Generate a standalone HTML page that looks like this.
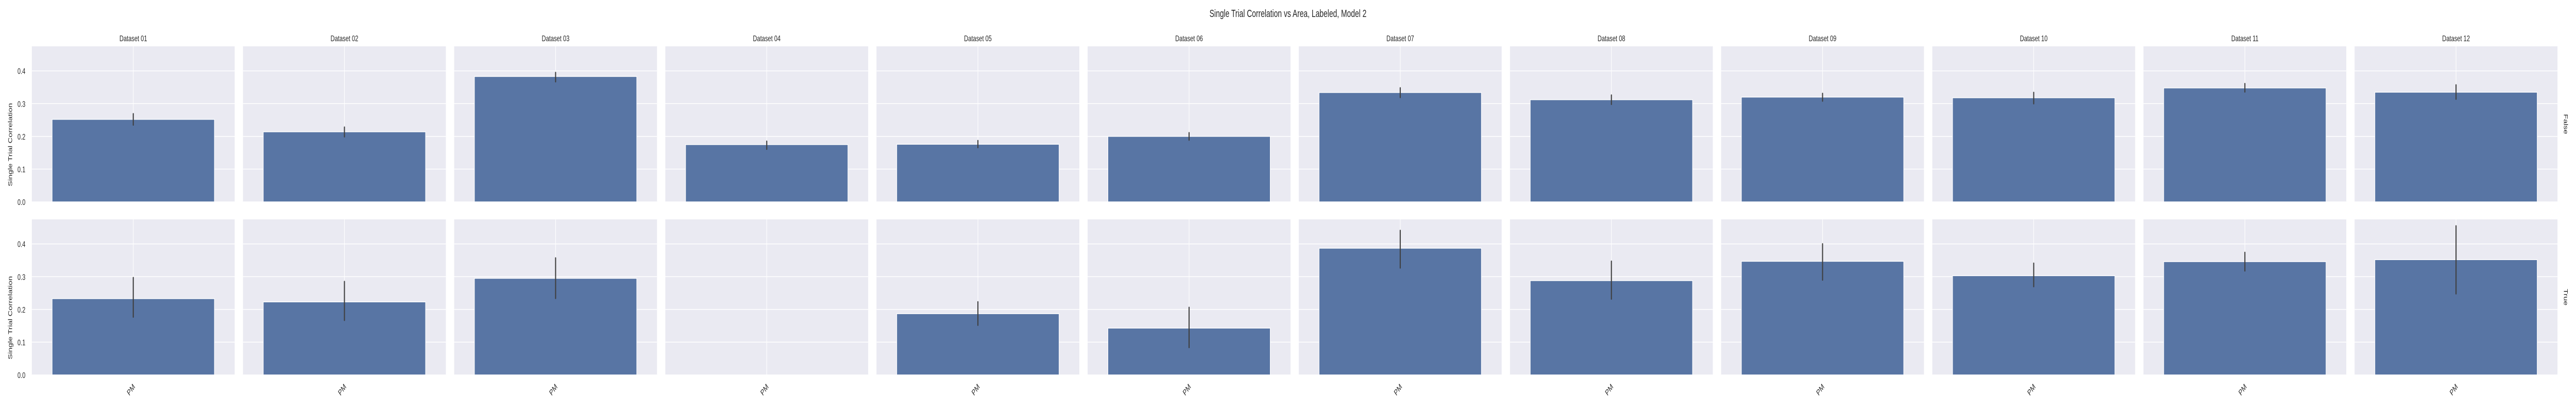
<!DOCTYPE html>
<html><head><meta charset="utf-8"><style>
html,body{margin:0;padding:0;background:#fff;overflow:hidden;width:100%;height:100%;}
svg{display:block;font-family:"Liberation Sans",sans-serif;width:100vw;height:100vh;}
</style></head><body>
<svg id="chart" viewBox="0 0 7200 800" preserveAspectRatio="none" xmlns="http://www.w3.org/2000/svg">
<text x="3600" y="33" font-size="20" text-anchor="middle" fill="#262626">Single Trial Correlation vs Area, Labeled, Model 2</text>
</svg>
<script>
const datasets = ["Dataset 01","Dataset 02","Dataset 03","Dataset 04","Dataset 05","Dataset 06","Dataset 07","Dataset 08","Dataset 09","Dataset 10","Dataset 11","Dataset 12"];
const rowLabels = ["False","True"];
const categories = ["PM"];
const yTicks = [0.0,0.1,0.2,0.3,0.4];
const yTickLabels = ["0.0","0.1","0.2","0.3","0.4"];
const falseMean = [0.252,0.214,0.383,0.175,0.176,0.200,0.334,0.312,0.320,0.318,0.348,0.335];
const falseLow  = [0.235,0.199,0.367,0.161,0.166,0.189,0.319,0.298,0.308,0.300,0.336,0.314];
const falseHigh = [0.269,0.228,0.395,0.185,0.187,0.211,0.348,0.326,0.331,0.334,0.361,0.357];
const trueMean = [0.233,0.223,0.295,null,0.187,0.143,0.387,0.288,0.347,0.303,0.346,0.352];
const trueLow  = [0.177,0.167,0.234,null,0.152,0.084,0.327,0.232,0.290,0.270,0.318,0.248];
const trueHigh = [0.297,0.285,0.357,null,0.223,0.206,0.441,0.347,0.400,0.341,0.374,0.455];

const NS="http://www.w3.org/2000/svg";
const svg=document.getElementById('chart');
function mk(tag,attrs,parent){const e=document.createElementNS(NS,tag);for(const k in attrs)e.setAttribute(k,attrs[k]);(parent||svg).appendChild(e);return e;}
const X0=89, PITCH=590.2, PW=567;
const ROWS=[{top:90,bottom:392},{top:426,bottom:728}];
const YMAX=0.475;
function yScale(v,r){const R=ROWS[r];return R.bottom-(v/YMAX)*(R.bottom-R.top);}
function xCenter(c){return X0+c*PITCH+PW/2;}
const series=[[falseMean,falseLow,falseHigh],[trueMean,trueLow,trueHigh]];

for(let r=0;r<2;r++){
  const R=ROWS[r];
  for(let c=0;c<datasets.length;c++){
    const x=X0+c*PITCH;
    const g=mk('g',{});
    
    
    const bg=mk('rect',{x:x,y:R.top,width:PW,height:R.bottom-R.top,fill:'#eaeaf2'},g);
    
    
    yTicks.forEach(t=>{
      const yy=yScale(t,r);
      const gl=mk('line',{x1:x,x2:x+PW,y1:yy,y2:yy,stroke:'#fff','stroke-width':1.5},g);
      
      
    });
    const cx=xCenter(c);
    const vg=mk('line',{x1:cx,x2:cx,y1:R.top,y2:R.bottom,stroke:'#fff','stroke-width':1.5},g);
    
    
    const m=series[r][0][c];
    if(m!==null){
      const bw=PW*0.8;
      const yt=yScale(m,r);
      const bar=mk('rect',{x:cx-bw/2,y:yt,width:bw,height:R.bottom-yt,fill:'#5875a4',stroke:'#fff','stroke-width':1.5},g);
      
      
      const eb=mk('line',{x1:cx,x2:cx,y1:yScale(series[r][1][c],r),y2:yScale(series[r][2][c],r),stroke:'#3f3f3f','stroke-width':3,'stroke-linecap':'round'},g);
      
      
    }
    if(r===0){
      const tt=mk('text',{x:cx,y:80,'font-size':16,'text-anchor':'middle',fill:'#262626'});
      tt.textContent=datasets[c];
      
      
    }
    if(r===1){
      const xl=mk('text',{x:cx+6,y:752,'font-size':16,'text-anchor':'end',fill:'#262626',transform:'rotate(-45 '+(cx+6)+' 752)'});
      xl.textContent=categories[0];
      
      
    }
  }
  yTicks.forEach((t,i)=>{
    const yl=mk('text',{x:71,y:yScale(t,r)+6,'font-size':16,'text-anchor':'end',fill:'#262626'});
    yl.textContent=yTickLabels[i];
    
    
  });
  const cy=(R.top+R.bottom)/2;
  const yt=mk('text',{x:34,y:cy+40,'font-size':16,'text-anchor':'middle',fill:'#262626',transform:'rotate(-90 34 '+(cy+40)+')'});
  yt.textContent='Single Trial Correlation';
  
  
  const rl=mk('text',{x:7166,y:cy,'font-size':16,'text-anchor':'middle',fill:'#262626',transform:'rotate(90 7166 '+cy+')'});
  rl.textContent=rowLabels[r];
  
  
}
</script>
</body></html>
